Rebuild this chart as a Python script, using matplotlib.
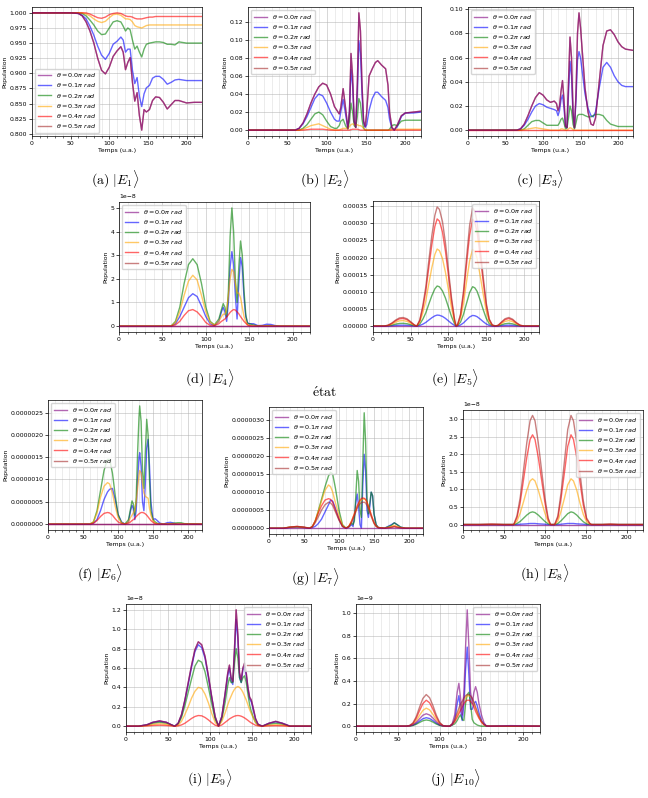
import matplotlib
matplotlib.use('Agg')
import matplotlib.pyplot as plt
from matplotlib.ticker import MultipleLocator

plt.rcParams['axes.formatter.limits'] = [-7, 7]
plt.rcParams['font.family'] = ['DejaVu Sans']

THETAS = ['0.0', '0.1', '0.2', '0.3', '0.4', '0.5']
COLORS = ['purple', 'blue', 'green', 'orange', 'red', 'brown']

# ---------------- (a) |E1> ----------------
TA = [0, 50, 60, 65, 70, 75, 80, 85, 90, 95, 100, 105, 110, 115, 118, 121, 124, 127, 130, 133,
      136, 139, 142, 145, 148, 152, 156, 160, 165, 170, 175, 180, 185, 190, 200, 210, 220]
A0 = [1.0, 1.0, 0.999, 0.995, 0.985, 0.970, 0.950, 0.925, 0.905, 0.899, 0.910, 0.928, 0.937, 0.944, 0.935,
      0.906, 0.918, 0.926, 0.885, 0.854, 0.868, 0.830, 0.806, 0.840, 0.836, 0.840, 0.855, 0.861, 0.860,
      0.852, 0.841, 0.848, 0.855, 0.855, 0.851, 0.852, 0.852]
A1 = [1.0, 1.0, 0.999, 0.996, 0.990, 0.978, 0.963, 0.945, 0.930, 0.923, 0.933, 0.948, 0.953, 0.960, 0.955,
      0.935, 0.940, 0.940, 0.905, 0.883, 0.893, 0.862, 0.845, 0.866, 0.876, 0.880, 0.892, 0.895, 0.895,
      0.890, 0.882, 0.885, 0.889, 0.890, 0.888, 0.888, 0.888]
A2 = [1.0, 1.0, 1.0, 0.999, 0.995, 0.988, 0.980, 0.970, 0.964, 0.965, 0.975, 0.985, 0.987, 0.985, 0.978,
      0.970, 0.975, 0.972, 0.955, 0.940, 0.945, 0.935, 0.927, 0.940, 0.948, 0.950, 0.951, 0.952, 0.952,
      0.951, 0.948, 0.948, 0.947, 0.952, 0.950, 0.950, 0.950]
A3 = [1.0, 1.0, 1.0, 1.0, 0.998, 0.995, 0.990, 0.986, 0.984, 0.986, 0.992, 0.997, 0.998, 0.996, 0.993,
      0.990, 0.990, 0.989, 0.985, 0.979, 0.977, 0.976, 0.975, 0.977, 0.979, 0.980, 0.980, 0.980, 0.980,
      0.980, 0.980, 0.980, 0.980, 0.980, 0.980, 0.980, 0.980]
A4 = [1.0, 1.0, 1.0, 1.0, 1.0, 0.998, 0.995, 0.992, 0.991, 0.993, 0.997, 0.999, 1.0, 0.999, 0.997,
      0.995, 0.994, 0.994, 0.993, 0.991, 0.990, 0.990, 0.990, 0.991, 0.992, 0.993, 0.993, 0.994, 0.994,
      0.994, 0.994, 0.994, 0.994, 0.994, 0.994, 0.994, 0.994]
A5 = A0  # coincides with theta = 0.0 pi

# ---------------- (b) |E2> ----------------
TB = [0, 60, 65, 70, 75, 80, 85, 90, 95, 100, 105, 110, 113, 116, 118, 121, 124, 127, 129, 131,
      133, 135, 137, 139, 141, 143, 145, 147, 149, 151, 154, 158, 162, 165, 170, 175, 178, 180, 183, 186,
      190, 195, 200, 210, 220]
B0 = [0, 0, 0.002, 0.008, 0.018, 0.030, 0.040, 0.048, 0.052, 0.050,
      0.040, 0.026, 0.022, 0.018, 0.025, 0.046, 0.025, 0.002, 0.020, 0.085,
      0.060, 0.010, 0.003, 0.050, 0.130, 0.110, 0.050, 0.010, 0.004, 0.020,
      0.060, 0.068, 0.075, 0.077, 0.072, 0.068, 0.050, 0.020, 0.003, 0.000,
      0.006, 0.016, 0.019, 0.020, 0.021]
B1 = [0, 0, 0.002, 0.007, 0.015, 0.025, 0.035, 0.040, 0.038, 0.030,
      0.020, 0.012, 0.010, 0.010, 0.020, 0.034, 0.018, 0.002, 0.020, 0.067,
      0.050, 0.010, 0.003, 0.040, 0.099, 0.085, 0.040, 0.008, 0.003, 0.006,
      0.022, 0.035, 0.042, 0.042, 0.037, 0.033, 0.025, 0.012, 0.002, 0.000,
      0.004, 0.015, 0.019, 0.019, 0.020]
B2 = [0, 0, 0, 0.002, 0.006, 0.012, 0.018, 0.020, 0.017, 0.010,
      0.004, 0.002, 0.002, 0.005, 0.010, 0.012, 0.005, 0.001, 0.010, 0.030,
      0.020, 0.005, 0.003, 0.015, 0.035, 0.030, 0.012, 0.002, 0.000, 0.000,
      0.000, 0.000, 0.000, 0.000, 0.000, 0.000, 0.000, 0.001, 0.005, 0.006,
      0.005, 0.010, 0.011, 0.011, 0.011]
B3 = [0, 0, 0, 0.001, 0.003, 0.005, 0.006, 0.007, 0.005, 0.003,
      0.001, 0, 0, 0, 0.001, 0.002, 0.002, 0.002, 0.004, 0.006,
      0.007, 0.006, 0.006, 0.006, 0.005, 0.005, 0.004, 0.002, 0.001, 0,
      0, 0, 0, 0, 0, 0, 0, 0, 0.001, 0.001,
      0.001, 0.001, 0.001, 0.001, 0.001]
B4 = [0, 0, 0, 0, 0.0005, 0.001, 0.001, 0.001, 0.001, 0.0005,
      0, 0, 0, 0, 0, 0, 0, 0, 0, 0.0005,
      0.001, 0.001, 0.001, 0.001, 0.0005, 0, 0, 0, 0, 0,
      0, 0, 0, 0, 0, 0, 0, 0, 0, 0,
      0, 0, 0, 0, 0]
B5 = B0

# ---------------- (c) |E3> ----------------
TC = [0, 65, 70, 75, 80, 85, 90, 95, 100, 105, 110, 115, 118, 120, 122, 124, 126, 128, 130, 132,
      134, 136, 138, 140, 142, 144, 146, 148, 150, 153, 156, 160, 164, 167, 170, 175, 180, 185, 190, 195,
      200, 205, 210, 220]
C0 = [0, 0, 0.001, 0.005, 0.012, 0.020, 0.027, 0.031, 0.029, 0.025,
      0.023, 0.024, 0.022, 0.016, 0.020, 0.032, 0.041, 0.025, 0.003, 0.002,
      0.040, 0.077, 0.060, 0.015, 0.002, 0.030, 0.080, 0.097, 0.085, 0.060,
      0.035, 0.015, 0.005, 0.004, 0.010, 0.040, 0.070, 0.082, 0.083, 0.079,
      0.073, 0.069, 0.067, 0.066]
C1 = [0, 0, 0.001, 0.004, 0.009, 0.015, 0.020, 0.022, 0.021, 0.019,
      0.018, 0.017, 0.016, 0.012, 0.016, 0.025, 0.029, 0.018, 0.003, 0.002,
      0.030, 0.057, 0.045, 0.012, 0.002, 0.025, 0.058, 0.065, 0.060, 0.045,
      0.030, 0.018, 0.012, 0.011, 0.015, 0.035, 0.052, 0.056, 0.052, 0.045,
      0.040, 0.037, 0.036, 0.036]
C2 = [0, 0, 0, 0.001, 0.004, 0.007, 0.008, 0.008, 0.006, 0.004,
      0.004, 0.004, 0.004, 0.004, 0.006, 0.009, 0.010, 0.006, 0.001, 0.002,
      0.010, 0.020, 0.016, 0.005, 0.001, 0.006, 0.012, 0.013, 0.013, 0.013,
      0.012, 0.011, 0.011, 0.012, 0.013, 0.013, 0.012, 0.008, 0.005, 0.004,
      0.003, 0.003, 0.003, 0.003]
C3 = [0, 0, 0, 0.0005, 0.001, 0.0015, 0.002, 0.0015, 0.001, 0.0005,
      0, 0, 0, 0, 0, 0.001, 0.001, 0.0005, 0, 0,
      0.001, 0.002, 0.0015, 0.0005, 0, 0, 0, 0, 0, 0,
      0, 0, 0, 0, 0, 0, 0, 0, 0, 0,
      0, 0, 0, 0]
C4 = [0, 0, 0, 0, 0, 0, 0, 0, 0, 0,
      0, 0, 0, 0, 0, 0, 0, 0, 0, 0,
      0, 0, 0, 0, 0, 0, 0, 0, 0, 0,
      0, 0, 0, 0, 0, 0, 0, 0, 0, 0,
      0, 0, 0, 0]
C5 = C0

# ---------------- (d) |E4>  (units of 1e-8) ----------------
TD = [0, 60, 65, 70, 75, 80, 85, 90, 95, 100, 105, 110, 115, 118, 120, 122, 124, 126, 128, 130,
      132, 134, 136, 138, 140, 142, 144, 146, 148, 150, 155, 160, 165, 170, 175, 180, 185, 220]
D0 = [0, 0, 0, 0, 0, 0, 0, 0, 0, 0, 0, 0, 0, 0, 0, 0, 0, 0, 0, 0,
      0, 0, 0, 0, 0, 0, 0, 0, 0, 0, 0, 0, 0, 0, 0, 0, 0, 0]
D1 = [0, 0, 0.1, 0.4, 0.8, 1.2, 1.37, 1.25, 0.85, 0.4,
      0.1, 0.02, 0.2, 0.6, 0.8, 0.6, 0.2, 1.0, 2.5, 3.15,
      2.6, 1.3, 0.3, 1.8, 2.9, 2.5, 1.2, 0.4, 0.15, 0.1,
      0.1, 0.02, 0.03, 0.08, 0.07, 0.02, 0, 0]
D2 = [0, 0, 0.2, 0.8, 1.8, 2.6, 2.85, 2.6, 1.8, 0.8,
      0.2, 0.05, 0.3, 0.7, 0.95, 0.8, 0.4, 1.5, 3.8, 5.0,
      4.0, 2.0, 1.0, 2.5, 3.6, 3.0, 1.5, 0.5, 0.1, 0.1,
      0.05, 0, 0, 0.02, 0.02, 0, 0, 0]
D3 = [0, 0, 0.15, 0.6, 1.3, 1.9, 2.15, 1.95, 1.3, 0.6,
      0.15, 0.05, 0.2, 0.4, 0.5, 0.5, 0.7, 1.3, 2.0, 2.4,
      2.3, 1.8, 1.4, 1.4, 1.2, 0.8, 0.4, 0.2, 0.05, 0.02,
      0, 0, 0, 0, 0, 0, 0, 0]
D4 = [0, 0, 0.05, 0.2, 0.45, 0.65, 0.7, 0.6, 0.4, 0.15,
      0.03, 0.02, 0.1, 0.2, 0.25, 0.3, 0.38, 0.48, 0.58, 0.65,
      0.7, 0.68, 0.6, 0.52, 0.4, 0.3, 0.2, 0.12, 0.05, 0.02,
      0, 0, 0, 0, 0, 0, 0, 0]
D5 = D0

# ---------------- (e) |E5>  (units of 1e-5) ----------------
TE = [0, 15, 20, 25, 30, 35, 40, 45, 50, 55, 58, 62, 66, 70, 74, 78, 82, 85, 88, 92,
      96, 100, 104, 108, 110, 112, 116, 120, 124, 128, 132, 135, 138, 142, 146, 150, 154, 158, 162, 166,
      170, 175, 180, 185, 190, 195, 200, 220]
E0 = [0, 0, 0, 0, 0, 0, 0, 0, 0, 0, 0, 0, 0, 0, 0, 0, 0, 0, 0, 0, 0, 0, 0, 0,
      0, 0, 0, 0, 0, 0, 0, 0, 0, 0, 0, 0, 0, 0, 0, 0, 0, 0, 0, 0, 0, 0, 0, 0]
E1 = [0, 0, 0.03, 0.09, 0.18, 0.24, 0.25, 0.21, 0.13, 0.03, 0,
      0.16, 0.54, 1.06, 1.76, 2.43, 2.98, 3.2, 3.14, 2.82, 2.24, 1.5, 0.77, 0.19, 0,
      0.03, 0.31, 0.93, 1.8, 2.64, 3.1, 3.01, 2.73, 2.05, 1.3, 0.62, 0.19, 0.03, 0,
      0.03, 0.11, 0.21, 0.25, 0.2, 0.1, 0.03, 0, 0]
E2 = [0, 0, 0.08, 0.28, 0.56, 0.76, 0.8, 0.68, 0.4, 0.1, 0,
      0.59, 1.99, 3.86, 6.44, 8.89, 10.88, 11.7, 11.47, 10.3, 8.19, 5.5, 2.81, 0.7, 0,
      0.12, 1.15, 3.45, 6.67, 9.78, 11.5, 11.16, 10.12, 7.59, 4.83, 2.3, 0.69, 0.12, 0,
      0.08, 0.36, 0.68, 0.8, 0.64, 0.32, 0.08, 0, 0]
E3 = [0, 0, 0.16, 0.56, 1.12, 1.52, 1.6, 1.36, 0.8, 0.19, 0,
      1.13, 3.83, 7.43, 12.38, 17.1, 20.93, 22.5, 22.05, 19.8, 15.75, 10.58, 5.4, 1.35, 0,
      0.22, 2.24, 6.72, 12.99, 19.04, 22.4, 21.73, 19.71, 14.78, 9.41, 4.48, 1.34, 0.22, 0,
      0.16, 0.72, 1.36, 1.6, 1.28, 0.64, 0.16, 0, 0]
E4 = [0, 0, 0.22, 0.77, 1.54, 2.09, 2.2, 1.87, 1.1, 0.26, 0,
      1.57, 5.32, 10.33, 17.22, 23.79, 29.11, 31.3, 30.67, 27.54, 21.91, 14.71, 7.51, 1.88, 0,
      0.31, 3.12, 9.36, 18.1, 26.52, 31.2, 30.26, 27.46, 20.59, 13.1, 6.24, 1.87, 0.31, 0,
      0.22, 0.99, 1.87, 2.2, 1.76, 0.88, 0.22, 0, 0]
E5 = [0, 0, 0.25, 0.88, 1.75, 2.38, 2.5, 2.13, 1.25, 0.3, 0,
      1.74, 5.92, 11.48, 19.14, 26.45, 32.36, 34.8, 34.1, 30.62, 24.36, 16.36, 8.35, 2.09, 0,
      0.35, 3.45, 10.35, 20.01, 29.33, 34.5, 33.47, 30.36, 22.77, 14.49, 6.9, 2.07, 0.35, 0,
      0.25, 1.13, 2.13, 2.5, 2.0, 1.0, 0.25, 0, 0]

# ---------------- (f) |E6>  (units of 1e-6) ----------------
TF = [0, 60, 65, 70, 75, 80, 85, 88, 92, 96, 100, 105, 110, 115, 118, 120, 122, 124, 126, 128,
      130, 131, 133, 135, 137, 139, 141, 143, 145, 147, 150, 153, 156, 160, 165, 170, 175, 180, 185, 190,
      195, 220]
F0 = [0, 0, 0, 0, 0, 0, 0, 0, 0, 0, 0, 0, 0, 0, 0, 0, 0, 0, 0, 0, 0,
      0, 0, 0, 0, 0, 0, 0, 0, 0, 0, 0, 0, 0, 0, 0, 0, 0, 0, 0, 0, 0]
F1 = [0, 0, 0.02, 0.1, 0.3, 0.55, 0.72, 0.78, 0.8, 0.55,
      0.22, 0.05, 0, 0.05, 0.3, 0.42, 0.35, 0.1, 0.3, 1.0,
      1.5, 1.6, 1.3, 0.5, 0.3, 0.9, 1.7, 1.9, 1.3, 0.5,
      0.1, 0.12, 0.08, 0.02, 0, 0.03, 0.04, 0.02, 0, 0,
      0, 0]
F2 = [0, 0, 0.05, 0.3, 0.75, 1.2, 1.45, 1.45, 1.15, 0.65,
      0.22, 0.03, 0, 0.1, 0.35, 0.52, 0.45, 0.2, 0.6, 1.6,
      2.4, 2.65, 2.3, 1.2, 0.8, 1.6, 2.35, 2.0, 1.0, 0.3,
      0.1, 0.05, 0.02, 0, 0, 0, 0.01, 0.02, 0.03, 0.03,
      0.01, 0]
F3 = [0, 0, 0.05, 0.25, 0.6, 0.85, 0.93, 0.9, 0.7, 0.4,
      0.15, 0.03, 0, 0.05, 0.15, 0.2, 0.25, 0.32, 0.5, 0.8,
      1.1, 1.2, 1.15, 0.9, 0.7, 0.62, 0.6, 0.58, 0.35, 0.2,
      0.08, 0.02, 0, 0, 0, 0, 0, 0, 0, 0,
      0, 0]
F4 = [0, 0, 0.02, 0.08, 0.17, 0.24, 0.26, 0.25, 0.2, 0.12,
      0.05, 0.01, 0, 0.02, 0.05, 0.08, 0.1, 0.13, 0.17, 0.2,
      0.23, 0.24, 0.26, 0.26, 0.25, 0.23, 0.2, 0.16, 0.12, 0.08,
      0.04, 0.01, 0, 0, 0, 0, 0, 0, 0, 0,
      0, 0]
F5 = F0

# ---------------- (g) |E7>  (units of 1e-6) ----------------
TG = [0, 20, 30, 40, 50, 58, 62, 66, 70, 75, 80, 85, 88, 91, 95, 100, 105, 110, 114, 118,
      120, 122, 124, 126, 128, 130, 132, 134, 136, 138, 140, 142, 144, 146, 148, 150, 153, 156, 165, 175,
      179, 183, 188, 195, 220]
G0 = [0, 0, 0, 0, 0, 0, 0, 0, 0, 0, 0, 0, 0, 0, 0, 0, 0, 0, 0, 0, 0, 0, 0,
      0, 0, 0, 0, 0, 0, 0, 0, 0, 0, 0, 0, 0, 0, 0, 0, 0, 0, 0, 0, 0, 0]
G1 = [0, 0, 0.02, 0.03, 0.02, 0, 0.02, 0.05, 0.12, 0.25,
      0.45, 0.65, 0.78, 0.75, 0.55, 0.25, 0.05, 0, 0.03, 0.1,
      0.05, 0.3, 0.7, 0.95, 0.6, 0.1, 0.0, 1.2, 2.05, 1.6,
      0.5, 0.3, 0.6, 1.0, 0.9, 0.4, 0.1, 0.02, 0, 0.1,
      0.15, 0.1, 0.03, 0, 0]
G2 = [0, 0, 0.03, 0.04, 0.02, 0, 0.05, 0.2, 0.45, 0.8,
      1.15, 1.45, 1.55, 1.5, 1.1, 0.5, 0.1, 0, 0.05, 0.15,
      0.1, 0.2, 0.9, 1.6, 1.3, 0.5, 0.3, 1.8, 3.2, 2.4,
      0.8, 0.4, 0.7, 1.0, 0.9, 0.4, 0.1, 0.02, 0, 0.08,
      0.15, 0.1, 0.03, 0, 0]
G3 = [0, 0, 0.03, 0.04, 0.02, 0, 0.05, 0.2, 0.45, 0.75,
      1.05, 1.2, 1.15, 1.0, 0.7, 0.35, 0.08, 0, 0.05, 0.2,
      0.3, 0.4, 0.5, 0.6, 0.68, 0.75, 0.78, 0.8, 0.82, 0.78,
      0.7, 0.6, 0.5, 0.35, 0.25, 0.15, 0.06, 0.02, 0, 0.05,
      0.08, 0.05, 0.02, 0, 0]
G4 = [0, 0, 0.03, 0.05, 0.03, 0, 0.05, 0.2, 0.4, 0.62,
      0.78, 0.82, 0.8, 0.72, 0.5, 0.25, 0.05, 0, 0.05, 0.2,
      0.3, 0.4, 0.5, 0.62, 0.7, 0.78, 0.82, 0.84, 0.83, 0.8,
      0.72, 0.62, 0.5, 0.38, 0.27, 0.16, 0.06, 0.02, 0, 0.03,
      0.05, 0.03, 0.01, 0, 0]
G5 = [0, 0, 0.03, 0.05, 0.03, 0, 0.04, 0.15, 0.3, 0.5,
      0.65, 0.72, 0.7, 0.63, 0.45, 0.22, 0.05, 0, 0.04, 0.15,
      0.25, 0.35, 0.45, 0.55, 0.62, 0.68, 0.71, 0.72, 0.72, 0.7,
      0.63, 0.54, 0.44, 0.33, 0.23, 0.13, 0.05, 0.01, 0, 0.02,
      0.04, 0.02, 0.01, 0, 0]

# ---------------- (h) |E8>  (units of 1e-8) ----------------
TH = [0, 20, 35, 50, 62, 66, 70, 74, 78, 82, 85, 88, 92, 96, 100, 104, 107, 112, 116, 120,
      124, 128, 132, 135, 139, 143, 147, 151, 155, 157, 170, 180, 190, 220]
H0 = [0, 0, 0, 0, 0, 0, 0, 0, 0, 0, 0, 0, 0, 0, 0, 0, 0,
      0, 0, 0, 0, 0, 0, 0, 0, 0, 0, 0, 0, 0, 0, 0, 0, 0]
H1 = [0, 0, 0, 0, 0, 0, 0.01, 0.015, 0.02, 0.03, 0.03, 0.03, 0.02, 0.015, 0.01, 0, 0,
      0, 0, 0.01, 0.02, 0.03, 0.03, 0.03, 0.02, 0.015, 0.01, 0, 0, 0, 0, 0, 0, 0]
H2 = [0, 0, 0, 0, 0, 0.03, 0.09, 0.18, 0.27, 0.34, 0.36, 0.34, 0.27, 0.18, 0.09, 0.02, 0,
      0, 0.03, 0.11, 0.21, 0.31, 0.36, 0.34, 0.27, 0.17, 0.08, 0.02, 0, 0, 0, 0, 0, 0]
H3 = [0, 0, 0, 0, 0, 0.1, 0.33, 0.65, 0.98, 1.24, 1.3, 1.24, 0.98, 0.65, 0.33, 0.08, 0,
      0, 0.1, 0.39, 0.75, 1.13, 1.3, 1.24, 0.98, 0.61, 0.29, 0.08, 0.01, 0, 0, 0, 0, 0]
H4 = [0, 0, 0.01, 0, 0, 0.2, 0.64, 1.28, 1.91, 2.42, 2.55, 2.42, 1.91, 1.28, 0.64, 0.15, 0,
      0, 0.2, 0.77, 1.48, 2.22, 2.55, 2.42, 1.91, 1.2, 0.56, 0.15, 0.03, 0, 0, 0.01, 0, 0]
H5 = [0, 0, 0.01, 0, 0, 0.25, 0.78, 1.55, 2.33, 2.95, 3.1, 2.95, 2.33, 1.55, 0.78, 0.19, 0,
      0, 0.25, 0.93, 1.8, 2.7, 3.1, 2.95, 2.33, 1.46, 0.68, 0.19, 0.03, 0, 0, 0.01, 0, 0]

# ---------------- (i) |E9>  (units of 1e-8) ----------------
TI = [0, 15, 25, 32, 40, 48, 55, 58, 62, 66, 70, 74, 78, 82, 86, 90, 94, 98, 102, 106,
      110, 114, 118, 121, 123, 125, 127, 129, 131, 133, 135, 137, 139, 141, 143, 145, 147, 149, 151, 154,
      157, 162, 170, 178, 186, 195, 220]
I0 = [0, 0, 0.015, 0.04, 0.055, 0.04, 0.01, 0, 0.03, 0.12,
      0.27, 0.45, 0.63, 0.79, 0.87, 0.84, 0.72, 0.52, 0.3, 0.1,
      0, 0.1, 0.35, 0.55, 0.63, 0.5, 0.46, 0.8, 1.2, 0.95,
      0.55, 0.48, 0.6, 0.65, 0.55, 0.4, 0.3, 0.27, 0.2, 0.08,
      0.02, 0, 0.03, 0.05, 0.03, 0, 0]
I1 = [0, 0, 0.015, 0.04, 0.05, 0.04, 0.01, 0, 0.03, 0.11,
      0.26, 0.43, 0.61, 0.77, 0.84, 0.81, 0.7, 0.5, 0.29, 0.09,
      0, 0.1, 0.33, 0.52, 0.6, 0.47, 0.43, 0.75, 1.1, 0.9,
      0.5, 0.45, 0.58, 0.62, 0.52, 0.38, 0.28, 0.25, 0.18, 0.07,
      0.02, 0, 0.03, 0.045, 0.03, 0, 0]
I2 = [0, 0, 0.01, 0.03, 0.04, 0.03, 0.01, 0, 0.02, 0.09,
      0.21, 0.35, 0.49, 0.62, 0.68, 0.66, 0.56, 0.4, 0.23, 0.07,
      0, 0.07, 0.25, 0.42, 0.5, 0.45, 0.45, 0.65, 0.8, 0.7,
      0.5, 0.45, 0.5, 0.52, 0.45, 0.33, 0.22, 0.15, 0.1, 0.04,
      0.01, 0, 0.02, 0.03, 0.02, 0, 0]
I3 = [0, 0, 0.007, 0.018, 0.025, 0.018, 0.005, 0, 0.01, 0.05,
      0.12, 0.2, 0.29, 0.36, 0.4, 0.39, 0.33, 0.24, 0.13, 0.04,
      0, 0.05, 0.14, 0.22, 0.27, 0.31, 0.35, 0.38, 0.4, 0.41,
      0.4, 0.38, 0.35, 0.31, 0.27, 0.22, 0.17, 0.13, 0.09, 0.04,
      0.01, 0, 0.01, 0.015, 0.01, 0, 0]
I4 = [0, 0, 0.003, 0.007, 0.01, 0.007, 0.002, 0, 0.003, 0.013,
      0.03, 0.055, 0.08, 0.1, 0.11, 0.107, 0.09, 0.065, 0.035, 0.01,
      0, 0.013, 0.04, 0.06, 0.075, 0.085, 0.095, 0.103, 0.108, 0.11,
      0.108, 0.103, 0.095, 0.085, 0.073, 0.06, 0.046, 0.034, 0.024, 0.01,
      0.003, 0, 0.003, 0.005, 0.003, 0, 0]
I5 = I0

# ---------------- (j) |E10>  (units of 1e-9) ----------------
TJ = [0, 60, 64, 68, 72, 76, 80, 84, 88, 92, 96, 100, 104, 108, 112, 115, 118, 121, 123, 125,
      127, 129, 131, 133, 135, 137, 139, 141, 143, 145, 147, 150, 153, 156, 160, 185, 220]
J0 = [0, 0, 0.002, 0.011, 0.033, 0.066, 0.097, 0.11, 0.099, 0.072,
      0.039, 0.013, 0.002, 0, 0, 0.02, 0.1, 0.3, 0.38, 0.25,
      0.1, 0.3, 0.7, 1.03, 0.7, 0.3, 0.2, 0.3, 0.35, 0.3,
      0.2, 0.1, 0.03, 0, 0, 0.005, 0]
J1 = [0, 0, 0.002, 0.008, 0.023, 0.045, 0.066, 0.075, 0.068, 0.049,
      0.026, 0.009, 0.002, 0, 0, 0.01, 0.05, 0.2, 0.27, 0.15,
      0.05, 0.2, 0.5, 0.7, 0.45, 0.15, 0.15, 0.2, 0.22, 0.18,
      0.12, 0.05, 0.02, 0, 0, 0, 0]
J2 = [0, 0, 0.001, 0.006, 0.017, 0.033, 0.048, 0.055, 0.05, 0.036,
      0.019, 0.007, 0.001, 0, 0, 0.01, 0.02, 0.05, 0.08, 0.1,
      0.06, 0.05, 0.2, 0.28, 0.3, 0.2, 0.06, 0.03, 0.02, 0.01,
      0.005, 0, 0, 0, 0, 0, 0]
J3 = [0, 0, 0.003, 0.016, 0.048, 0.096, 0.14, 0.16, 0.144, 0.104,
      0.056, 0.019, 0.003, 0, 0, 0.02, 0.05, 0.1, 0.13, 0.17,
      0.2, 0.23, 0.25, 0.27, 0.27, 0.26, 0.24, 0.2, 0.16, 0.12,
      0.08, 0.04, 0.015, 0.003, 0, 0, 0]
J4 = [0, 0, 0.005, 0.023, 0.069, 0.138, 0.2, 0.23, 0.207, 0.15,
      0.08, 0.028, 0.005, 0, 0, 0.015, 0.04, 0.08, 0.11, 0.14,
      0.17, 0.2, 0.22, 0.23, 0.23, 0.22, 0.2, 0.17, 0.13, 0.1,
      0.07, 0.035, 0.012, 0.002, 0, 0, 0]
J5 = [0, 0, 0.006, 0.028, 0.084, 0.168, 0.246, 0.28, 0.252, 0.182,
      0.098, 0.034, 0.006, 0, 0, 0.02, 0.06, 0.12, 0.16, 0.2,
      0.22, 0.25, 0.27, 0.28, 0.28, 0.27, 0.25, 0.21, 0.17, 0.13,
      0.09, 0.045, 0.015, 0.003, 0, 0, 0]

# ---------------- layout (pixel boxes: left, top, right, bottom) ----------------
W, H = 648, 798
panels = [
    dict(t=TA, ys=[A0, A1, A2, A3, A4, A5], unit=1.0, step=0.025, loc='lower left',
         box=(32, 7, 202, 136), cap=r'$\mathrm{(a)}\ |E_1\rangle$', cpos=(115, 179)),
    dict(t=TB, ys=[B0, B1, B2, B3, B4, B5], unit=1.0, step=0.02, loc='upper left',
         box=(248, 7, 421, 136), cap=r'$\mathrm{(b)}\ |E_2\rangle$', cpos=(325, 179)),
    dict(t=TC, ys=[C0, C1, C2, C3, C4, C5], unit=1.0, step=0.02, loc='upper left',
         box=(468, 7, 633, 136), cap=r'$\mathrm{(c)}\ |E_3\rangle$', cpos=(540, 179)),
    dict(t=TD, ys=[D0, D1, D2, D3, D4, D5], unit=1e-8, step=1e-8, loc='upper left',
         box=(119, 202, 310, 332), cap=r'$\mathrm{(d)}\ |E_4\rangle$', cpos=(210, 378)),
    dict(t=TE, ys=[E0, E1, E2, E3, E4, E5], unit=1e-5, step=5e-5, loc='upper right',
         box=(373, 201, 539, 332), cap=r'$\mathrm{(e)}\ |E_5\rangle$', cpos=(455, 378)),
    dict(t=TF, ys=[F0, F1, F2, F3, F4, F5], unit=1e-6, step=5e-7, loc='upper left',
         box=(48, 400, 202, 530), cap=r'$\mathrm{(f)}\ |E_6\rangle$', cpos=(100, 573)),
    dict(t=TG, ys=[G0, G1, G2, G3, G4, G5], unit=1e-6, step=5e-7, loc='upper left',
         box=(269, 407, 423, 534), cap=r'$\mathrm{(g)}\ |E_7\rangle$', cpos=(315, 577)),
    dict(t=TH, ys=[H0, H1, H2, H3, H4, H5], unit=1e-8, step=0.5e-8, loc='upper right',
         box=(463, 410, 643, 530), cap=r'$\mathrm{(h)}\ |E_8\rangle$', cpos=(545, 573)),
    dict(t=TI, ys=[I0, I1, I2, I3, I4, I5], unit=1e-8, step=0.2e-8, loc='upper right',
         box=(126, 604, 311, 732), cap=r'$\mathrm{(i)}\ |E_9\rangle$', cpos=(210, 778)),
    dict(t=TJ, ys=[J0, J1, J2, J3, J4, J5], unit=1e-9, step=0.2e-9, loc='upper right',
         box=(356, 604, 540, 732), cap=r'$\mathrm{(j)}\ |E_{10}\rangle$', cpos=(455, 778)),
]

fig = plt.figure(figsize=(W / 100, H / 100), dpi=100)

FS = 4.4
LFS = 4.6
ZORD = [2.6, 2.2, 2.2, 2.2, 2.2, 2.4]
for p in panels:
    l, t, r, b = p['box']
    ax = fig.add_axes([l / W, 1 - b / H, (r - l) / W, (b - t) / H])
    for k, y in enumerate(p['ys']):
        ax.plot(p['t'], [v * p['unit'] for v in y], color=COLORS[k], alpha=0.6, lw=1.0,
                zorder=ZORD[k], label=r'$\theta = %s\pi\ rad$' % THETAS[k])
    ax.set_xlim(0, 220)
    ax.xaxis.set_major_locator(MultipleLocator(50))
    ax.xaxis.set_minor_locator(MultipleLocator(10))
    ax.yaxis.set_major_locator(MultipleLocator(p['step']))
    ax.grid(True, which='major', color='#b0b0b0', lw=0.5, alpha=0.7)
    ax.xaxis.grid(True, which='minor', color='#c8c8c8', lw=0.4, alpha=0.6)
    ax.tick_params(labelsize=FS, length=2, width=0.5, pad=1.5)
    ax.tick_params(which='minor', length=1.2, width=0.4)
    ax.yaxis.get_offset_text().set_fontsize(FS)
    for s in ax.spines.values():
        s.set_linewidth(0.5)
    ax.set_xlabel('Temps (u.a.)', fontsize=FS, labelpad=1.5)
    ax.set_ylabel('Population', fontsize=FS, labelpad=1.5)
    leg = ax.legend(loc=p['loc'], fontsize=LFS, framealpha=0.8, borderpad=0.4,
                    labelspacing=0.35, handlelength=2.0)
    leg.set_zorder(5)
    fig.text(p['cpos'][0] / W, 1 - p['cpos'][1] / H, p['cap'], ha='center', va='center',
             fontsize=10, math_fontfamily='cm')

fig.text(325 / W, 1 - 393 / H, r'$\mathrm{\acute{e}tat}$', ha='center', va='center',
         fontsize=10, math_fontfamily='cm')

fig.savefig('out.png', dpi=100)
